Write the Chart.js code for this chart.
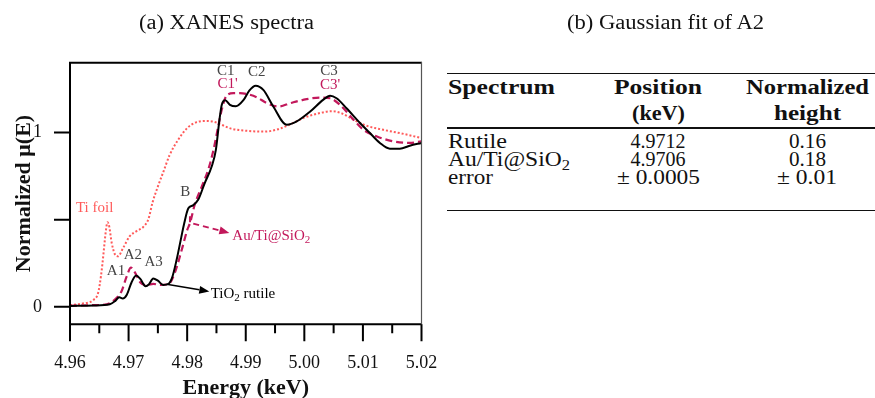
<!DOCTYPE html>
<html><head><meta charset="utf-8">
<script src="https://cdn.jsdelivr.net/npm/chart.js@4"></script>
<style>
html,body{margin:0;padding:0;background:#fff;width:875px;height:398px;overflow:hidden;}
#wrap{position:relative;width:875px;height:398px;}
#c{position:absolute;left:0;top:0;}
.t{position:absolute;white-space:nowrap;font-family:"Liberation Serif",serif;font-size:20px;line-height:20px;color:#111;transform-origin:0 0;}
.b{font-weight:bold;}
.rule{position:absolute;left:447px;width:428px;height:1.3px;background:#111;}
.sub{font-size:14px;position:relative;top:4px;}
</style></head>
<body><div id="wrap"><canvas id="c" width="440" height="398"></canvas></div>
<script>
// ---------- data ----------
const E_RUTILE = [4.960,4.964,4.9668,4.9677,4.9684,4.9690,4.9697,4.9705,4.9713,4.9720,4.9729,4.9735,4.9742,4.9750,4.9759,4.9767,4.9774,4.9782,4.9790,4.9795,4.9802,4.9810,4.9819,4.9830,4.9842,4.9849,4.9855,4.9859,4.9865,4.9873,4.9883,4.9896,4.9906,4.9917,4.9930,4.9947,4.9970,4.9987,5.0010,5.0032,5.0044,5.0055,5.0072,5.0095,5.0112,5.0129,5.0146,5.0163,5.0180,5.0200];
const MU_RUTILE = [0.005,0.008,0.015,0.033,0.055,0.048,0.070,0.140,0.180,0.160,0.118,0.130,0.163,0.150,0.126,0.130,0.165,0.270,0.400,0.480,0.565,0.582,0.615,0.710,0.806,0.900,1.070,1.158,1.185,1.158,1.150,1.185,1.240,1.268,1.244,1.149,1.044,1.063,1.120,1.187,1.211,1.196,1.139,1.054,0.997,0.940,0.907,0.907,0.924,0.940];

const E_AUTI = [4.960,4.964,4.9663,4.9677,4.9688,4.9697,4.9704,4.9711,4.9720,4.9731,4.9742,4.9754,4.9768,4.9779,4.9791,4.9800,4.9805,4.9813,4.9825,4.9836,4.9845,4.9853,4.9859,4.9867,4.9879,4.9890,4.9905,4.9920,4.9936,4.9956,4.9976,4.9998,5.0027,5.0044,5.0061,5.0084,5.0101,5.0124,5.0152,5.0180,5.0200];
const MU_AUTI = [0.006,0.010,0.015,0.044,0.090,0.177,0.225,0.196,0.140,0.124,0.132,0.126,0.130,0.196,0.330,0.440,0.482,0.587,0.691,0.787,0.901,1.034,1.130,1.210,1.225,1.225,1.218,1.200,1.168,1.149,1.168,1.187,1.200,1.196,1.158,1.073,1.015,0.977,0.949,0.940,0.949];

const E_FOIL = [4.960,4.962,4.964,4.9648,4.9653,4.9657,4.9661,4.9664,4.9667,4.9671,4.9677,4.9682,4.9691,4.9702,4.9714,4.9725,4.9734,4.9741,4.9750,4.9760,4.9770,4.9785,4.9800,4.9815,4.9830,4.9845,4.9858,4.9875,4.9900,4.9930,4.9955,4.9975,5.0000,5.0025,5.0047,5.0065,5.0083,5.0105,5.0135,5.0165,5.0200];
const MU_FOIL = [0.010,0.018,0.040,0.080,0.180,0.300,0.430,0.485,0.460,0.370,0.300,0.290,0.340,0.405,0.435,0.458,0.505,0.600,0.690,0.780,0.870,0.960,1.025,1.058,1.066,1.062,1.045,1.022,1.010,1.005,1.018,1.045,1.085,1.110,1.122,1.108,1.075,1.040,1.015,0.995,0.968];

const XTICK_VALUES = [4.96,4.97,4.98,4.99,5.00,5.01,5.02];
const XTICK_LABELS = ['4.96','4.97','4.98','4.99','5.00','5.01','5.02'];
const XMINOR_VALUES = [4.965,4.975,4.985,4.995,5.005,5.015];
const YTICK_VALUES = [0,0.5,1];
const YTICK_LABELS = ['0','','1'];

// annotation labels anchored in data space
const LABELS = [
  {text:'C1', x:4.98658, y:1.353, kind:'note'},
  {text:"C1'", x:4.98690, y:1.276, kind:'au'},
  {text:'C2', x:4.99187, y:1.349, kind:'note'},
  {text:'C3', x:5.00421, y:1.353, kind:'note'},
  {text:"C3'", x:5.00440, y:1.269, kind:'au'},
  {text:'B', x:4.97968, y:0.657, kind:'note'},
  {text:'Ti foil', x:4.96420, y:0.566, kind:'foil'},
  {text:'A1', x:4.96785, y:0.203, kind:'note'},
  {text:'A2', x:4.97072, y:0.298, kind:'note'},
  {text:'A3', x:4.97428, y:0.257, kind:'note'}
];
const SUB_LABELS = [
  {parts:['Au/Ti@SiO','2',''], x:4.98771, y:0.406, kind:'au'},
  {parts:['TiO','2',' rutile'], x:4.98402, y:0.073, kind:'rutile'}
];
const ARROWS = [
  {pts:[[4.9765,0.130],[4.98378,0.088]], kind:'rutile', dashed:false},
  {pts:[[4.98048,0.52],[4.98048,0.482],[4.9872,0.424]], kind:'au', dashed:true}
];

// table panel (b)
const TABLE_HEAD = [['Spectrum','Position','Normalized'],['','(keV)','height']];
const TABLE_ROWS = [
  ['Rutile','4.9712','0.16'],
  ['Au/Ti@SiO<span class="sub">2</span>','4.9706','0.18'],
  ['error','± 0.0005','± 0.01']
];

// ---------- styles ----------
const COLORS = {rutile:'#000000', au:'#c2185b', foil:'#ff5a5a', note:'#444444'};
const SERIF = '"Liberation Serif", "Times New Roman", serif';

const toPts = (xs, ys) => xs.map((x,i)=>({x:x, y:ys[i]}));

const framePlugin = {
  id:'frame',
  afterDatasetsDraw(chart){
    const {ctx, chartArea:{left,top,right,bottom}} = chart;
    const xs = chart.scales.x, ys = chart.scales.y;
    ctx.save();
    ctx.strokeStyle = '#000'; ctx.lineWidth = 2; ctx.lineCap='butt';
    ctx.beginPath();
    ctx.moveTo(right, top); ctx.lineTo(left, top); ctx.lineTo(left, bottom); ctx.lineTo(right, bottom);
    ctx.stroke();
    ctx.strokeStyle = '#555'; ctx.lineWidth = 1.2;
    ctx.beginPath(); ctx.moveTo(right, top-1); ctx.lineTo(right, bottom+1); ctx.stroke();
    ctx.strokeStyle = '#000'; ctx.lineWidth = 2;
    ctx.beginPath();
    XTICK_VALUES.forEach(v=>{const p = xs.getPixelForValue(v); ctx.moveTo(p, bottom); ctx.lineTo(p, bottom+17);});
    XMINOR_VALUES.forEach(v=>{const p = xs.getPixelForValue(v); ctx.moveTo(p, bottom); ctx.lineTo(p, bottom+9);});
    YTICK_VALUES.forEach(v=>{const p = ys.getPixelForValue(v); ctx.moveTo(left, p); ctx.lineTo(left-16, p);});
    ctx.stroke();
    ctx.restore();
  }
};

const annotPlugin = {
  id:'annot',
  afterDatasetsDraw(chart){
    const {ctx} = chart;
    const xs = chart.scales.x, ys = chart.scales.y;
    ctx.save();
    ctx.font = '15px ' + SERIF;
    ctx.textBaseline = 'middle';
    ctx.textAlign = 'center';
    LABELS.forEach(l=>{
      ctx.fillStyle = COLORS[l.kind];
      ctx.fillText(l.text, xs.getPixelForValue(l.x), ys.getPixelForValue(l.y));
    });
    ctx.textAlign = 'left';
    SUB_LABELS.forEach(l=>{
      let px = xs.getPixelForValue(l.x), py = ys.getPixelForValue(l.y);
      ctx.fillStyle = COLORS[l.kind];
      ctx.font = '15px ' + SERIF; ctx.fillText(l.parts[0], px, py); px += ctx.measureText(l.parts[0]).width;
      ctx.font = '11px ' + SERIF; ctx.fillText(l.parts[1], px, py+4); px += ctx.measureText(l.parts[1]).width;
      ctx.font = '15px ' + SERIF; ctx.fillText(l.parts[2], px, py);
    });
    ARROWS.forEach(a=>{
      const pts = a.pts.map(p=>[xs.getPixelForValue(p[0]), ys.getPixelForValue(p[1])]);
      const n = pts.length;
      const [x1,y1] = pts[n-2], [x2,y2] = pts[n-1];
      const ang = Math.atan2(y2-y1, x2-x1);
      const hl = 10, hw = 4;
      const bx = x2 - hl*Math.cos(ang), by = y2 - hl*Math.sin(ang);
      ctx.strokeStyle = COLORS[a.kind]; ctx.fillStyle = COLORS[a.kind];
      ctx.lineWidth = a.dashed ? 2 : 1.6;
      ctx.setLineDash(a.dashed ? [6,4] : []);
      ctx.beginPath();
      ctx.moveTo(pts[0][0], pts[0][1]);
      for (let i=1;i<n-1;i++) ctx.lineTo(pts[i][0], pts[i][1]);
      ctx.lineTo(bx, by);
      ctx.stroke();
      ctx.setLineDash([]);
      ctx.beginPath();
      ctx.moveTo(x2, y2);
      ctx.lineTo(bx + hw*Math.sin(ang), by - hw*Math.cos(ang));
      ctx.lineTo(bx - hw*Math.sin(ang), by + hw*Math.cos(ang));
      ctx.closePath(); ctx.fill();
    });
    ctx.restore();
  }
};

new Chart(document.getElementById('c'), {
  type:'line',
  data:{
    datasets:[
      {label:'TiO2 rutile', data:toPts(E_RUTILE, MU_RUTILE), borderColor:COLORS.rutile, borderWidth:2, pointRadius:0, cubicInterpolationMode:'monotone', fill:false},
      {label:'Au/Ti@SiO2', data:toPts(E_AUTI, MU_AUTI), borderColor:COLORS.au, borderWidth:2.2, borderDash:[7,4], pointRadius:0, cubicInterpolationMode:'monotone', fill:false},
      {label:'Ti foil', data:toPts(E_FOIL, MU_FOIL), borderColor:COLORS.foil, borderWidth:2, borderDash:[2,2], pointRadius:0, cubicInterpolationMode:'monotone', fill:false}
    ]
  },
  options:{
    responsive:false, animation:false, devicePixelRatio:1,
    layout:{padding:{left:0, right:18.5, top:62.7, bottom:0}},
    plugins:{ legend:{display:false}, tooltip:{enabled:false}, title:{display:false} },
    scales:{
      x:{type:'linear', min:4.96, max:5.02,
        afterBuildTicks:s=>{s.ticks = XTICK_VALUES.map(v=>({value:v}));},
        afterFit:s=>{s.height = 73.7; s.paddingLeft = 0; s.paddingRight = 0;},
        grid:{display:false, drawTicks:false, tickLength:0}, border:{display:false},
        ticks:{callback:(v,i)=>XTICK_LABELS[i], font:{family:SERIF, size:18}, color:'#111', padding:28.5, maxRotation:0, autoSkip:false},
        title:{display:true, text:'Energy (keV)', color:'#111', font:{family:SERIF, size:22, weight:'bold', lineHeight:1}, padding:{top:0,bottom:-1}}
      },
      y:{type:'linear', min:-0.1, max:1.4,
        afterBuildTicks:s=>{s.ticks = YTICK_VALUES.map(v=>({value:v}));},
        afterFit:s=>{s.width = 70; s.paddingTop = 0; s.paddingBottom = 0;},
        grid:{display:false, drawTicks:false, tickLength:0}, border:{display:false},
        ticks:{callback:(v,i)=>YTICK_LABELS[i], font:{family:SERIF, size:18}, color:'#111', padding:28, autoSkip:false},
        title:{display:true, text:'Normalized μ(E)', color:'#111', font:{family:SERIF, size:22, weight:'bold', lineHeight:1}, padding:{top:13,bottom:0}}
      }
    }
  },
  plugins:[framePlugin, annotPlugin]
});

// ---------- titles and panel (b): table ----------
const wrap = document.getElementById('wrap');
function place(html, cls, ax, align, baseline, targetW){
  const d = document.createElement('div');
  d.className = 't ' + cls; d.innerHTML = html; wrap.appendChild(d);
  const w = d.getBoundingClientRect().width;
  const k = targetW ? targetW / w : 1;
  d.style.left = (align === 'center' ? ax - w*k/2 : ax) + 'px';
  d.style.top = (baseline - 16.75) + 'px';
  d.style.transform = 'scaleX(' + k + ')';
}
function rule(y){ const r = document.createElement('div'); r.className='rule'; r.style.top = y+'px'; wrap.appendChild(r); }
place('(a) XANES spectra', '', 226, 'center', 28.3, 175);
place('(b) Gaussian fit of A2', '', 665, 'center', 28.3, 197);
const COL_X = [448, 658, 807], COL_ALIGN = ['left','center','center'];
const HEAD_BASE = [93.3, 120], ROW_BASE = [147.7, 166, 184];
const HEAD_W = [[107,88,123],[0,53,67]], ROW_W = [[59,55,37],[122,55,37],[45,83,60]];
rule(72.7); rule(127.4); rule(210);
TABLE_HEAD.forEach((row,r)=>row.forEach((txt,c)=>{ if(txt) place(txt,'b',COL_X[c],COL_ALIGN[c],HEAD_BASE[r],HEAD_W[r][c]); }));
TABLE_ROWS.forEach((row,r)=>row.forEach((txt,c)=>{ place(txt,'',COL_X[c],COL_ALIGN[c],ROW_BASE[r],ROW_W[r][c]); }));
</script>
</body></html>
